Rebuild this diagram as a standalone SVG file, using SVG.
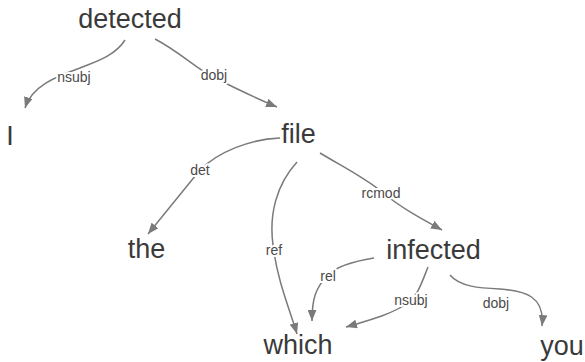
<svg xmlns="http://www.w3.org/2000/svg" width="585" height="362" viewBox="0 0 585 362">
<style>
.word{font-family:"Liberation Sans",Arial,sans-serif;font-size:27px;fill:#3a3a3a;text-anchor:middle}
.edge{fill:none;stroke:#7a7a7a;stroke-width:1.5}
.lbl{font-family:"Liberation Sans",Arial,sans-serif;font-size:14px;fill:#4a4a4a;text-anchor:middle;stroke:#fff;stroke-width:4;paint-order:stroke;stroke-linejoin:round}
</style>
<defs>
<marker id="arr" viewBox="0 0 10 8" refX="10" refY="4" markerWidth="11" markerHeight="9" markerUnits="userSpaceOnUse" orient="auto">
<path d="M0,0 L10,4 L0,8 Z" fill="#7a7a7a"/>
</marker>
</defs>
<rect width="585" height="362" fill="#fff"/>
<g id="edges">
<path class="edge" marker-end="url(#arr)" d="M125,40 C115,56 95,62 80,68 C55,77 32,86 25,108"/>
<path class="edge" marker-end="url(#arr)" d="M155,39 C180,52 195,68 213,77 C235,88 255,98 277,107"/>
<path class="edge" marker-end="url(#arr)" d="M280,138 C250,139 218,152 200,170 L148,234"/>
<path class="edge" marker-end="url(#arr)" d="M297,162 C276,185 269,215 273,245 C277,280 290,310 297,334"/>
<path class="edge" marker-end="url(#arr)" d="M320,153 C345,168 365,178 382,192 C400,207 420,218 442,230"/>
<path class="edge" marker-end="url(#arr)" d="M374,258 C355,261 337,266 328,275 C315,288 312,300 312,321"/>
<path class="edge" marker-end="url(#arr)" d="M428,267 C422,282 418,295 408,303 C390,315 370,320 346,327"/>
<path class="edge" marker-end="url(#arr)" d="M450,275 C460,287 480,288 500,289 C525,291 545,296 542,326"/>
<text class="lbl" x="74" y="82">nsubj</text>
<text class="lbl" x="214" y="80">dobj</text>
<text class="lbl" x="200" y="175">det</text>
<text class="lbl" x="274" y="255">ref</text>
<text class="lbl" x="381" y="198">rcmod</text>
<text class="lbl" x="328" y="281">rel</text>
<text class="lbl" x="411" y="305">nsubj</text>
<text class="lbl" x="496" y="308">dobj</text>
</g>
<g id="n-detected"><text class="word" x="130" y="28">detected</text></g>
<g id="n-I"><text class="word" x="10" y="145">I</text></g>
<g id="n-file"><text class="word" x="298.5" y="143">file</text></g>
<g id="n-the"><text class="word" x="146.5" y="258">the</text></g>
<g id="n-infected"><text class="word" x="433.5" y="259">infected</text></g>
<g id="n-which"><text class="word" x="298" y="354">which</text></g>
<g id="n-you"><text class="word" x="562" y="355">you</text></g>
</svg>
